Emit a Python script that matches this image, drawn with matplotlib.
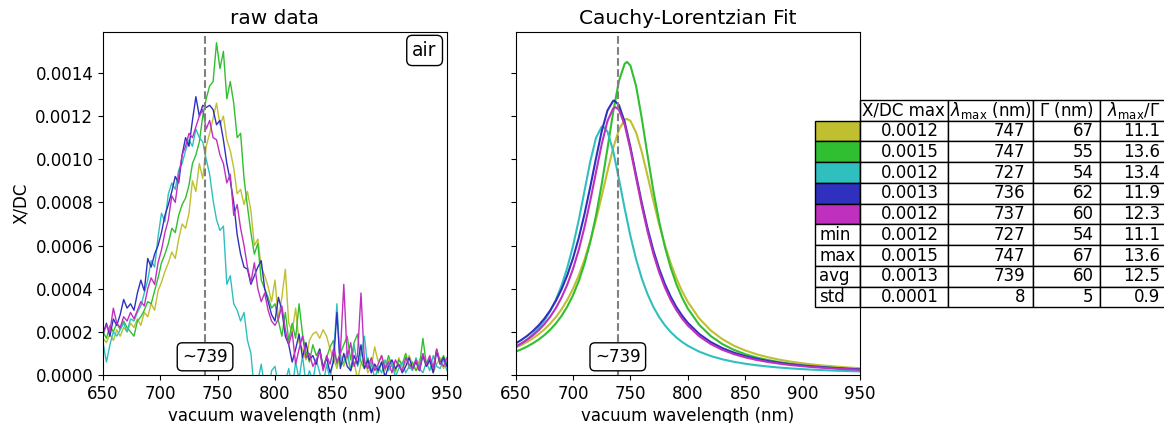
import numpy as np
import matplotlib
matplotlib.use("Agg")
import matplotlib.pyplot as plt
from matplotlib.ticker import FormatStrFormatter
from matplotlib.table import Table

colors = ["#bfbf30", "#30bf30", "#30bfbf", "#3030bf", "#bf30bf"]

# raw spectra, X/DC in units of 1e-4, sampled every 3 nm from 650 to 950
raw_nm = np.arange(650, 951, 3)
raw_olive = [1.7, 1.5, 1.9, 1.6, 2.1, 1.8, 2.2, 2.0, 2.4, 2.2,
             2.6, 2.3, 2.9, 2.7, 3.3, 3.0, 3.9, 4.3, 4.8, 5.2,
             5.7, 5.4, 6.3, 7.0, 6.8, 7.5, 9.0, 8.5, 9.8, 9.1,
             10.6, 11.2, 11.9, 12.6, 11.6, 12.0, 10.9, 10.4, 9.6, 8.4,
             8.6, 7.9, 8.5, 7.6, 6.0, 6.3, 5.0, 4.6, 4.1, 3.4,
             4.4, 2.6, 3.6, 4.9, 2.4, 2.0, 3.1, 1.5, 1.2, 0.7,
             1.6, 1.9, 2.0, 1.7, 2.1, 1.8, 1.2, 0.8, 0.3, 1.0,
             0.4, 0.9, 0.2, 0.6, -0.2, 0.5, 0.8, 0.1, 0.4, 1.3,
             0.6, 0.9, 0.2, 0.7, 0.5, 0.1, 0.8, 0.3, 0.6, 0.9,
             0.5, 0.2, 0.7, 0.9, 0.4, 0.6, 0.1, 0.5, 0.8, 0.3,
             0.6]
raw_green = [2.0, 1.7, 2.3, 2.0, 2.4, 2.1, 2.5, 2.2, 2.0, 1.8,
             2.5, 2.7, 3.0, 3.4, 3.3, 3.9, 4.5, 5.2, 5.6, 6.1,
             6.8, 6.6, 7.4, 7.9, 8.2, 8.8, 9.8, 10.2, 10.8, 12.0,
             12.8, 13.4, 13.6, 15.4, 14.2, 15.0, 12.8, 13.6, 12.6, 11.0,
             11.2, 9.1, 7.8, 6.6, 5.6, 6.1, 4.4, 4.0, 3.6, 3.1,
             3.3, 2.5, 1.8, 2.9, 1.6, 2.4, 1.7, 3.3, 1.9, 1.1,
             0.6, 1.4, 0.9, 1.2, 0.4, 0.8, 1.3, 1.6, 0.5, 1.0,
             1.4, 1.8, 0.7, 1.5, 1.9, 0.6, 0.3, 0.8, 0.2, 0.5,
             0.1, 0.6, 0.3, 0.9, 0.4, 0.2, 0.7, 0.5, 1.0, 0.3,
             0.6, 0.2, 0.4, 1.7, 0.5, 0.8, 0.3, 1.2, 0.6, 0.9,
             0.5]
raw_cyan = [1.5, 0.6, 1.4, 2.0, 1.8, 2.1, 2.4, 2.0, 2.6, 2.5,
            2.9, 3.2, 3.8, 4.4, 5.3, 5.0, 6.4, 7.5, 7.1, 8.4,
            8.9, 8.6, 9.5, 9.8, 10.4, 10.9, 10.6, 11.4, 11.0, 10.8,
            10.0, 9.3, 8.1, 7.2, 6.7, 6.9, 4.2, 4.6, 3.3, 3.0,
            2.5, 2.9, 1.6, 1.0, -0.8, -0.3, 0.5, -0.6, -1.0, 0.2,
            0.4, -0.5, -0.9, -0.3, 0.3, -0.7, 0.6, -0.2, 0.9, -0.4,
            0.2, -0.3, 0.7, 0.1, -0.5, 0.5, -0.2, 0.8, 3.3, 0.4,
            0.6, 1.1, 0.2, 1.4, 0.4, 0.9, 1.8, 0.3, 0.6, -0.2,
            0.4, 0.1, 0.7, 0.2, 0.5, -0.1, 0.3, 0.6, 0.1, 0.4,
            0.2, 0.8, 0.3, 0.1, 0.6, 0.2, 0.9, 0.4, 0.3, 0.7,
            0.2]
raw_blue = [1.9, 2.4, 1.8, 2.6, 2.3, 2.8, 3.5, 3.1, 3.3, 3.0,
            3.8, 4.4, 3.9, 5.4, 5.0, 5.6, 6.0, 6.6, 7.4, 7.9,
            8.5, 9.2, 8.9, 10.2, 11.0, 10.6, 11.8, 12.9, 12.0, 12.5,
            12.4, 12.5, 12.3, 11.6, 11.8, 10.9, 9.8, 9.0, 8.0, 6.5,
            5.6, 5.0, 4.9, 4.2, 4.6, 5.0, 5.3, 4.0, 3.4, 2.8,
            2.5, 3.6, 3.0, 1.8, 1.4, 0.6, 1.2, 1.9, 0.8, 1.5,
            0.7, 0.9, 0.5, 1.2, 0.3, 0.8, 0.1, 0.6, 2.9, 0.3,
            1.0, 0.4, 0.2, 0.9, 0.5, 1.4, 0.3, 0.7, 0.1, 0.5,
            0.2, 0.6, -0.1, 0.4, 0.7, 0.3, 0.5, 0.1, 0.4, 0.8,
            0.3, 0.6, 0.2, 0.9, 0.4, 0.7, 0.1, 1.1, 0.5, 0.8,
            0.4]
raw_magenta = [1.9, 2.3, 2.0, 3.1, 2.4, 2.2, 2.7, 2.5, 2.9, 2.6,
               3.0, 3.4, 3.2, 4.0, 4.5, 4.2, 5.2, 5.8, 6.6, 7.2,
               8.3, 8.0, 9.2, 10.2, 10.6, 11.2, 11.0, 11.5, 12.0, 12.3,
               11.4, 11.8, 11.0, 10.9, 10.2, 9.8, 8.9, 9.3, 7.4, 7.9,
               6.8, 6.0, 5.0, 4.3, 5.2, 4.0, 3.4, 3.8, 3.0, 2.5,
               2.3, 2.6, 3.2, 2.1, 1.4, 2.0, 0.5, 1.2, 1.8, 0.8,
               1.0, 0.4, 0.7, 1.1, 0.2, 0.9, 0.5, 1.2, 0.6, 1.0,
               4.2, 0.8, 1.5, 0.4, 0.9, 3.8, 0.6, 0.3, 0.8, 0.2,
               0.5, 0.9, 0.3, 0.6, 0.1, 0.7, 0.4, 0.2, 0.8, 0.5,
               0.3, 0.7, 0.2, 1.0, 0.5, 0.9, 0.3, 1.2, 0.6, 0.4,
               0.8]

# fitted curves, X/DC in units of 1e-4
fit_nm = np.concatenate([np.arange(650, 801, 5), np.arange(810, 951, 10)])
fit_olive = [1.265, 1.390, 1.533, 1.698, 1.889, 2.112, 2.374, 2.682, 3.047, 3.482,
             4.000, 4.615, 5.347, 6.208, 7.194, 8.295, 9.439, 10.52, 11.37, 11.83,
             11.78, 11.23, 10.32, 9.211, 8.067, 6.988, 6.024, 5.191, 4.483, 3.888,
             3.389, 2.616, 2.065, 1.663, 1.363, 1.136, 0.959, 0.820, 0.708, 0.618,
             0.543, 0.481, 0.429, 0.385, 0.347, 0.315]
fit_green = [1.080, 1.190, 1.318, 1.467, 1.641, 1.847, 2.092, 2.385, 2.740, 3.171,
             3.701, 4.353, 5.164, 6.164, 7.388, 8.848, 10.50, 12.19, 13.63, 14.43,
             14.34, 13.38, 11.86, 10.16, 8.538, 7.124, 5.947, 4.987, 4.212, 3.585,
             3.078, 2.322, 1.803, 1.435, 1.167, 0.965, 0.811, 0.691, 0.595, 0.517,
             0.454, 0.402, 0.358, 0.320, 0.289, 0.261]
fit_cyan = [1.292, 1.457, 1.653, 1.889, 2.175, 2.524, 2.954, 3.488, 4.150, 4.974,
            5.983, 7.184, 8.533, 9.889, 10.99, 11.51, 11.28, 10.38, 9.087, 7.711,
            6.441, 5.354, 4.459, 3.736, 3.154, 2.685, 2.306, 1.997, 1.742, 1.531,
            1.355, 1.080, 0.879, 0.728, 0.612, 0.522, 0.450, 0.392, 0.344, 0.304,
            0.271, 0.243, 0.219, 0.198, 0.181, 0.165]
fit_blue = [1.463, 1.625, 1.814, 2.037, 2.299, 2.611, 2.984, 3.431, 3.973, 4.627,
            5.415, 6.360, 7.467, 8.719, 10.04, 11.30, 12.26, 12.71, 12.51, 11.73,
            10.56, 9.246, 7.953, 6.784, 5.774, 4.925, 4.219, 3.636, 3.153, 2.752,
            2.417, 1.899, 1.525, 1.248, 1.038, 0.876, 0.748, 0.646, 0.563, 0.495,
            0.439, 0.391, 0.351, 0.317, 0.287, 0.261]
fit_magenta = [1.319, 1.465, 1.635, 1.836, 2.072, 2.354, 2.692, 3.099, 3.593, 4.193,
               4.923, 5.804, 6.856, 8.070, 9.394, 10.70, 11.77, 12.36, 12.29, 11.59,
               10.45, 9.125, 7.816, 6.633, 5.615, 4.765, 4.063, 3.486, 3.011, 2.619,
               2.294, 1.793, 1.434, 1.170, 0.970, 0.817, 0.697, 0.601, 0.523, 0.459,
               0.407, 0.362, 0.325, 0.293, 0.265, 0.241]
# fitted peak position (nm) and height (1e-4) of each curve
peak_nm = [747, 747, 726, 736, 737]
peak_val = [11.87, 14.51, 11.53, 12.72, 12.41]

raw_series = [raw_olive, raw_green, raw_cyan, raw_blue, raw_magenta]
fit_series = [fit_olive, fit_green, fit_cyan, fit_blue, fit_magenta]

mean_peak = 739

# summary table
col_labels = ["X/DC max", r"$\lambda_{\mathrm{max}}$ (nm)", r"$\Gamma$ (nm)",
              r"$\lambda_{\mathrm{max}}/\Gamma$"]
row_labels = ["", "", "", "", "", "min", "max", "avg", "std"]
xdc_max = ["0.0012", "0.0015", "0.0012", "0.0013", "0.0012", "0.0012", "0.0015", "0.0013", "0.0001"]
lam_max = ["747", "747", "727", "736", "737", "727", "747", "739", "8"]
gamma = ["67", "55", "54", "62", "60", "54", "67", "60", "5"]
ratio = ["11.1", "13.6", "13.4", "11.9", "12.3", "11.1", "13.6", "12.5", "0.9"]

plt.rcParams["font.family"] = "DejaVu Sans"
plt.rcParams["font.size"] = 12

fig = plt.figure(figsize=(11.64, 4.23), dpi=100)
ax1 = fig.add_axes([0.0885, 0.1135, 0.2955, 0.811])
ax2 = fig.add_axes([0.443, 0.1135, 0.2958, 0.811], sharey=ax1)

for vals, c in zip(raw_series, colors):
    ax1.plot(raw_nm, np.array(vals) * 1e-4, color=c, lw=1)
for vals, c, pn, pv in zip(fit_series, colors, peak_nm, peak_val):
    k = np.searchsorted(fit_nm, pn)
    x = np.insert(fit_nm, k, pn)
    y = np.insert(np.array(vals), k, pv)
    ax2.plot(x, y * 1e-4, color=c, lw=1.5)

for ax in (ax1, ax2):
    ax.axvline(mean_peak, color="gray", ls="--", lw=1.5)
    ax.set_xlim(650, 950)
    ax.set_xlabel("vacuum wavelength (nm)", labelpad=3)
    ax.text(mean_peak, 0.053, "~%d" % mean_peak, transform=ax.get_xaxis_transform(),
            ha="center", va="center",
            bbox=dict(boxstyle="round", fc="white", ec="black"))

ax1.set_ylim(0, 0.00159)
ax1.yaxis.set_major_formatter(FormatStrFormatter("%.4f"))
ax1.set_ylabel("X/DC")
ax1.set_title("raw data", fontsize=14.5)
ax2.set_title("Cauchy-Lorentzian Fit", fontsize=14.5)
plt.setp(ax2.get_yticklabels(), visible=False)
ax1.text(0.935, 0.946, "air", transform=ax1.transAxes, ha="center", va="center", fontsize=13.5,
         bbox=dict(boxstyle="round", fc="white", ec="black"))

widths = [45, 87.7, 85.6, 66.7, 66.7]
tab = Table(ax2, bbox=[0.869, 0.197, 1.023, 0.605])
header = [""] + col_labels
for j, txt in enumerate(header):
    cell = tab.add_cell(0, j, width=widths[j], height=1, text=txt, loc="center")
    if j == 0:
        cell.visible_edges = ""
for i in range(len(row_labels)):
    fc = colors[i] if i < len(colors) else "white"
    tab.add_cell(i + 1, 0, width=widths[0], height=1, text=row_labels[i], loc="left", facecolor=fc)
    for j, col in enumerate([xdc_max, lam_max, gamma, ratio]):
        tab.add_cell(i + 1, j + 1, width=widths[j + 1], height=1, text=col[i], loc="right")
tab.auto_set_font_size(False)
tab.set_fontsize(12)
ax2.add_table(tab)

fig.savefig("out.png", dpi=100)
